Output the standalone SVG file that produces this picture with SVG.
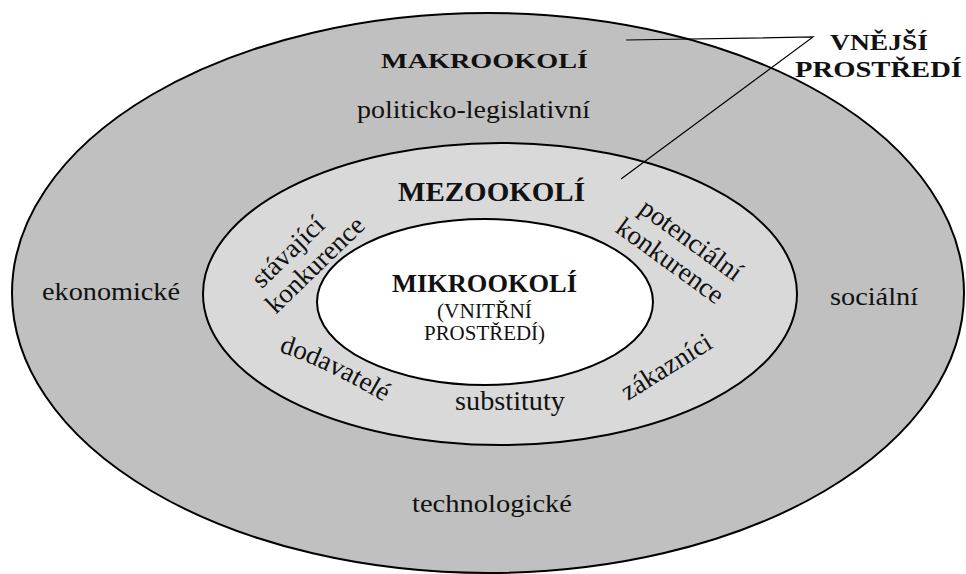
<svg xmlns="http://www.w3.org/2000/svg" width="966" height="574" viewBox="0 0 966 574">
<style>
.ring{stroke:#000;stroke-width:2}
.t{font-family:'Liberation Serif','Times New Roman',Times,serif;fill:#111}
.b{font-weight:bold}
.conn{fill:none;stroke:#000;stroke-width:1.2}
</style>
<rect width="966" height="574" fill="#fff"/>
<g id="makrookoli">
<ellipse class="ring" cx="488" cy="293" rx="476" ry="280" fill="#c0c0c0"/>
<text class="t b" x="381" y="68" font-size="22" textLength="207" lengthAdjust="spacingAndGlyphs">MAKROOKOLÍ</text>
<text class="t" x="357" y="118" font-size="25" textLength="233" lengthAdjust="spacingAndGlyphs">politicko-legislativní</text>
<text class="t" x="42" y="300" font-size="26" textLength="138" lengthAdjust="spacingAndGlyphs">ekonomické</text>
<text class="t" x="830" y="305" font-size="26" textLength="88" lengthAdjust="spacingAndGlyphs">sociální</text>
<text class="t" x="412" y="512" font-size="26" textLength="160" lengthAdjust="spacingAndGlyphs">technologické</text>
</g>
<g id="mezookoli">
<ellipse class="ring" cx="500" cy="294" rx="297" ry="151" fill="#d9d9d9"/>
<text class="t b" x="398" y="201" font-size="28" textLength="187" lengthAdjust="spacingAndGlyphs">MEZOOKOLÍ</text>
<text class="t" font-size="27" text-anchor="middle" transform="translate(294,258) rotate(-44)">stávající</text>
<text class="t" font-size="27" text-anchor="middle" transform="translate(321,271) rotate(-44)">konkurence</text>
<text class="t" font-size="27" text-anchor="middle" transform="translate(686,247) rotate(36)">potenciální</text>
<text class="t" font-size="27" text-anchor="middle" transform="translate(665,268) rotate(36)">konkurence</text>
<path id="pDod" d="M 279 352 Q 325 366 394 408" fill="none"/>
<text class="t" font-size="27"><textPath href="#pDod">dodavatelé</textPath></text>
<text class="t" x="455" y="410" font-size="27" textLength="110" lengthAdjust="spacingAndGlyphs">substituty</text>
<text class="t" font-size="27" text-anchor="middle" transform="translate(671,374) rotate(-32)">zákazníci</text>
</g>
<g id="mikrookoli">
<ellipse class="ring" cx="485" cy="302" rx="168" ry="83" fill="#fff"/>
<text class="t b" x="392" y="292" font-size="26" textLength="185" lengthAdjust="spacingAndGlyphs">MIKROOKOLÍ</text>
<text class="t" x="437" y="318" font-size="20" textLength="95" lengthAdjust="spacingAndGlyphs">(VNITŘNÍ</text>
<text class="t" x="424" y="340" font-size="20" textLength="121" lengthAdjust="spacingAndGlyphs">PROSTŘEDÍ)</text>
</g>
<g id="vnejsi">
<text class="t b" x="830" y="50" font-size="24" textLength="98" lengthAdjust="spacingAndGlyphs">VNĚJŠÍ</text>
<text class="t b" x="795" y="77" font-size="24" textLength="167" lengthAdjust="spacingAndGlyphs">PROSTŘEDÍ</text>
</g>
<g id="connectors">
<polyline class="conn" points="626,40 813,37 621,179"/>
</g>
</svg>
